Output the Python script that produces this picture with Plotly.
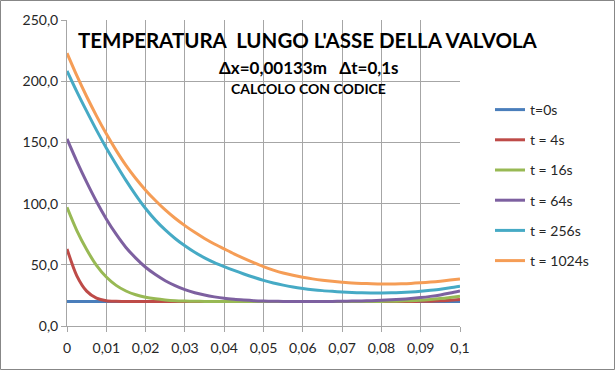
import plotly.graph_objects as go

# ---- data ----
x_pos = [0, 0.0025, 0.005, 0.0075, 0.01, 0.0125, 0.015, 0.0175, 0.02, 0.0225,
         0.025, 0.0275, 0.03, 0.0325, 0.035, 0.0375, 0.04, 0.0425, 0.045, 0.0475,
         0.05, 0.0525, 0.055, 0.0575, 0.06, 0.0625, 0.065, 0.0675, 0.07, 0.0725,
         0.075, 0.0775, 0.08, 0.0825, 0.085, 0.0875, 0.09, 0.0925, 0.095, 0.0975, 0.1]

t0 = [20] * 41
t4 = [63, 41, 28.5, 22.8, 20.7, 20.2, 20.05, 20, 20, 20,
      20, 20, 20, 20, 20, 20, 20, 20, 20, 20,
      20, 20, 20, 20, 20, 20, 20, 20, 20, 20,
      20, 20, 20, 20, 20, 20.05, 20.15, 20.3, 20.6, 21.1, 21.7]
t16 = [97, 78, 62.5, 49.5, 40, 33.2, 28.6, 25.5, 23.5, 22.2,
       21.3, 20.7, 20.4, 20.2, 20.1, 20, 20, 20, 20, 20,
       20, 20, 20, 20, 20, 20, 20, 20, 20, 20,
       20, 20.05, 20.1, 20.2, 20.4, 20.7, 21.1, 21.7, 22.4, 23.3, 24.3]
t64 = [152.8, 134.5, 117.5, 101.7, 87.5, 75, 64.2, 55.5, 48, 42,
       37, 33, 29.7, 27.2, 25.3, 23.8, 22.6, 21.8, 21.2, 20.7,
       20.4, 20.2, 20.1, 20, 20, 20, 20.05, 20.1, 20.2, 20.35,
       20.5, 20.7, 21, 21.4, 21.8, 22.4, 23.2, 24.2, 25.4, 26.9, 28.6]
t256 = [208.4, 191.5, 175.5, 160, 145.5, 132, 119, 107, 96, 86.5,
        78.5, 71.5, 65.5, 60.2, 55.7, 51.8, 48.5, 45.4, 42.5, 39.8,
        37.3, 35.2, 33.4, 31.9, 30.7, 29.7, 28.9, 28.3, 27.8, 27.4,
        27.1, 27, 27, 27.1, 27.4, 27.8, 28.4, 29.2, 30.1, 31.2, 32.5]
t1024 = [222.9, 204.5, 187.5, 171.7, 157, 143.5, 131.2, 120.5, 111, 102.5,
         94.8, 88, 82, 76.5, 71.5, 67, 63, 59, 55.3, 51.8,
         48.5, 45.7, 43.3, 41.4, 39.8, 38.5, 37.4, 36.5, 35.8, 35.2,
         34.8, 34.5, 34.3, 34.3, 34.5, 34.8, 35.3, 35.9, 36.6, 37.5, 38.5]

series_names = ["t=0s", "t = 4s", "t = 16s", "t = 64s", "t = 256s", "t = 1024s"]
series_values = [t0, t4, t16, t64, t256, t1024]
series_colors = ["#4a7ebb", "#be4b48", "#98b954", "#7d60a0", "#46aac5", "#f59d56"]

x_tickvals = [0, 0.01, 0.02, 0.03, 0.04, 0.05, 0.06, 0.07, 0.08, 0.09, 0.1]
x_ticktext = ["0", "0,01", "0,02", "0,03", "0,04", "0,05", "0,06", "0,07", "0,08", "0,09", "0,1"]

title_main = "TEMPERATURA  LUNGO L'ASSE DELLA VALVOLA"
title_sub = "Δx=0,00133m\u00a0\u00a0\u00a0Δt=0,1s"
title_sub2 = "CALCOLO CON CODICE"

# ---- figure ----
W, H = 615, 370
ML, MR, MT, MB = 67, 155, 20, 44
PW = W - ML - MR
PH = H - MT - MB


def px_x(px):
    return (px - ML) / PW


def px_y(py):
    return (H - MB - py) / PH


FONT = "Lato"

fig = go.Figure()
for name, vals, col in zip(series_names, series_values, series_colors):
    fig.add_trace(go.Scatter(
        x=x_pos, y=vals, mode="lines", name=name, legendgroup=name,
        line=dict(color=col, width=3, shape="spline", smoothing=0.8),
    ))

grid = "#a6a6a6"
fig.update_layout(
    width=W, height=H,
    margin=dict(l=ML, r=MR, t=MT, b=MB),
    paper_bgcolor="white", plot_bgcolor="white",
    separators=",.",
    font=dict(family=FONT, size=13, color="#404040"),
    showlegend=True,
    legend=dict(
        x=px_x(490), y=px_y(94), xanchor="left", yanchor="top",
        font=dict(family=FONT, size=14, color="#262626"),
        tracegroupgap=9, bgcolor="rgba(0,0,0,0)", itemwidth=30,
    ),
    xaxis=dict(
        range=[0, 0.1], tickvals=x_tickvals, ticktext=x_ticktext,
        showgrid=True, gridcolor=grid, gridwidth=1,
        zeroline=False, showline=True, linecolor=grid, linewidth=1,
        ticks="outside", ticklen=5, tickcolor=grid, ticklabelstandoff=4,
        tickfont=dict(family=FONT, size=14, color="#262626"),
    ),
    yaxis=dict(
        range=[0, 250], dtick=50, tickformat=".1f",
        showgrid=True, gridcolor=grid, gridwidth=1,
        zeroline=False, showline=True, linecolor=grid, linewidth=1,
        ticks="outside", ticklen=5, tickcolor=grid,
        tickfont=dict(family=FONT, size=14, color="#262626"),
    ),
    annotations=[
        dict(text="<b>" + title_main + "</b>", xref="paper", yref="paper",
             x=px_x(308), y=px_y(40), showarrow=False, xanchor="center", yanchor="middle",
             font=dict(family=FONT, size=20.5, color="black")),
        dict(text="<b>" + title_sub + "</b>", xref="paper", yref="paper",
             x=px_x(309), y=px_y(67), showarrow=False, xanchor="center", yanchor="middle",
             font=dict(family=FONT, size=17, color="black")),
        dict(text="<b>" + title_sub2 + "</b>", xref="paper", yref="paper",
             x=px_x(308), y=px_y(89), showarrow=False, xanchor="center", yanchor="middle",
             font=dict(family=FONT, size=14, color="black")),
    ],
    shapes=[
        dict(type="rect", xref="paper", yref="paper",
             x0=px_x(0.5), x1=px_x(W - 0.5), y0=px_y(H - 0.5), y1=px_y(0.5),
             line=dict(color="#878787", width=1), fillcolor="rgba(0,0,0,0)", layer="below"),
    ],
)

fig.write_html(
    "out.html",
    config={"displayModeBar": False},
    post_script="document.body.style.margin='0';document.body.style.overflow='hidden';",
)
